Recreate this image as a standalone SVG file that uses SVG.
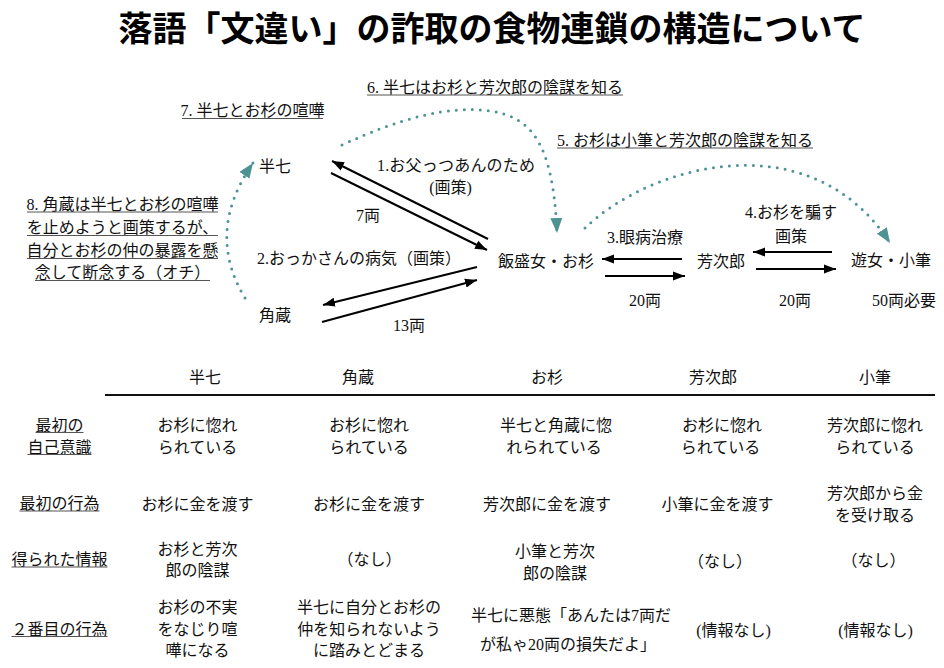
<svg xmlns="http://www.w3.org/2000/svg" width="944" height="668" viewBox="0 0 944 668">
<defs>
<style>
.t{font-family:"Liberation Serif","Noto Sans CJK JP",serif;font-size:16px;fill:#111;}
.m{text-anchor:middle;}
.title{font-family:"Noto Sans CJK JP",sans-serif;font-size:34px;font-weight:bold;fill:#000;text-anchor:middle;}
.ul{stroke:#555;stroke-width:1.2;}
.arr{stroke:#000;stroke-width:2;fill:none;marker-end:url(#ah);}
.dot{stroke:#4d9393;stroke-width:3;fill:none;stroke-dasharray:0 8;stroke-linecap:round;marker-end:url(#th);}
</style>
<marker id="ah" markerUnits="userSpaceOnUse" markerWidth="12" markerHeight="10" refX="12" refY="5" orient="auto">
<path d="M0,0.5 L12,5 L0,9.5 z" fill="#000"/>
</marker>
<marker id="th" markerUnits="userSpaceOnUse" markerWidth="15" markerHeight="12" refX="15" refY="6" orient="auto">
<path d="M0,0 L15,6 L0,12 z" fill="#4d9393"/>
</marker>
</defs>
<rect width="944" height="668" fill="#fff"/>
<text class="title" x="492" y="41">落語「文違い」の詐取の食物連鎖の構造について</text>

<g id="connectors">
<path class="arr" d="M488,239 L332,161"/>
<path class="arr" d="M331,173 L487,250"/>
<path class="arr" d="M477,267 L323,305"/>
<path class="arr" d="M322,322 L477,280"/>
<path class="arr" d="M682,259 L602,259"/>
<path class="arr" d="M605,276 L685,276"/>
<path class="arr" d="M832,252 L753,252"/>
<path class="arr" d="M756,269 L836,269"/>
<path class="dot" d="M245,298 Q205,232 253,163"/>
<path class="dot" d="M342,145 C400,118 450,105 490,111 C530,117 553,140 557,233"/>
<path class="dot" d="M585,228 C650,165 810,120 890,243"/>
</g>

<g id="node-hanshichi"><text class="t m" x="275" y="172">半七</text></g>
<g id="node-kakuzo"><text class="t m" x="275" y="321">角蔵</text></g>
<g id="node-osugi"><text class="t m" x="546" y="267">飯盛女・お杉</text></g>
<g id="node-yoshijiro"><text class="t m" x="721" y="267">芳次郎</text></g>
<g id="node-kofude"><text class="t m" x="891" y="266">遊女・小筆</text></g>

<g id="edge-labels">
<text class="t m" x="456" y="171" textLength="158" lengthAdjust="spacing">1.お父っつあんのため</text>
<text class="t m" x="450.5" y="193">(画策)</text>
<text class="t m" x="368" y="221">7両</text>
<text class="t" x="257" y="264">2.おっかさんの病気（画策）</text>
<text class="t m" x="409" y="331">13両</text>
<text class="t m" x="645" y="243">3.眼病治療</text>
<text class="t m" x="645" y="306">20両</text>
<text class="t m" x="791" y="218">4.お杉を騙す</text>
<text class="t m" x="791" y="242">画策</text>
<text class="t m" x="795" y="306">20両</text>
<text class="t m" x="904" y="306">50両必要</text>
</g>

<g id="notes">
<text class="t m" x="495" y="93">6. 半七はお杉と芳次郎の陰謀を知る</text>
<line class="ul" x1="367" y1="95" x2="623" y2="95"/>
<text class="t m" x="252.5" y="116">7. 半七とお杉の喧嘩</text>
<line class="ul" x1="182" y1="118.5" x2="323" y2="118.5"/>
<text class="t m" x="685" y="146">5. お杉は小筆と芳次郎の陰謀を知る</text>
<line class="ul" x1="557" y1="148" x2="813" y2="148"/>
<text class="t m" x="122.5" y="210">8. 角蔵は半七とお杉の喧嘩</text>
<line class="ul" x1="27" y1="212" x2="218" y2="212"/>
<text class="t m" x="122.5" y="233">を止めようと画策するが、</text>
<line class="ul" x1="27" y1="235.5" x2="218" y2="235.5"/>
<text class="t m" x="122.5" y="256">自分とお杉の仲の暴露を懸</text>
<line class="ul" x1="27" y1="258.5" x2="218" y2="258.5"/>
<text class="t m" x="122.5" y="278">念して断念する（オチ）</text>
<line class="ul" x1="35" y1="280.5" x2="210" y2="280.5"/>
</g>

<g id="table">
<text class="t m" x="205" y="383">半七</text>
<text class="t m" x="358" y="383">角蔵</text>
<text class="t m" x="547" y="383">お杉</text>
<text class="t m" x="713" y="383">芳次郎</text>
<text class="t m" x="875" y="383">小筆</text>
<line x1="105" y1="395" x2="935" y2="395" stroke="#111" stroke-width="2"/>

<text class="t m" x="59.5" y="430.5">最初の</text>
<line class="ul" x1="35.5" y1="432.5" x2="83.5" y2="432.5"/>
<text class="t m" x="59.5" y="452.5">自己意識</text>
<line class="ul" x1="27.5" y1="454.5" x2="91.5" y2="454.5"/>
<text class="t m" x="59.5" y="509">最初の行為</text>
<line class="ul" x1="19.5" y1="511" x2="99.5" y2="511"/>
<text class="t m" x="59.5" y="565">得られた情報</text>
<line class="ul" x1="11.5" y1="567" x2="107.5" y2="567"/>
<text class="t m" x="59.5" y="634.5">２番目の行為</text>
<line class="ul" x1="11.5" y1="636.5" x2="107.5" y2="636.5"/>

<text class="t m" x="197.5" y="430.5">お杉に惚れ</text>
<text class="t m" x="197.5" y="452.5">られている</text>
<text class="t m" x="369" y="430.5">お杉に惚れ</text>
<text class="t m" x="369" y="452.5">られている</text>
<text class="t m" x="556" y="430.5">半七と角蔵に惚</text>
<text class="t m" x="554" y="452.5">れられている</text>
<text class="t m" x="722" y="430.5">お杉に惚れ</text>
<text class="t m" x="720.5" y="452.5">られている</text>
<text class="t m" x="875" y="430.5">芳次郎に惚れ</text>
<text class="t m" x="875" y="452.5">られている</text>

<text class="t m" x="197.5" y="509.5">お杉に金を渡す</text>
<text class="t m" x="369" y="509.5">お杉に金を渡す</text>
<text class="t m" x="547" y="509.5">芳次郎に金を渡す</text>
<text class="t m" x="717.5" y="509.5">小筆に金を渡す</text>
<text class="t m" x="875" y="499">芳次郎から金</text>
<text class="t m" x="875" y="521">を受け取る</text>

<text class="t m" x="197.5" y="554.5">お杉と芳次</text>
<text class="t m" x="197.5" y="576">郎の陰謀</text>
<text class="t m" x="369.5" y="565">（なし）</text>
<text class="t m" x="555" y="557">小筆と芳次</text>
<text class="t m" x="555" y="579">郎の陰謀</text>
<text class="t m" x="720" y="567">（なし）</text>
<text class="t m" x="873.5" y="566">（なし）</text>

<text class="t m" x="197.5" y="612.5">お杉の不実</text>
<text class="t m" x="197.5" y="634.5">をなじり喧</text>
<text class="t m" x="197.5" y="656">嘩になる</text>
<text class="t m" x="369" y="612.5">半七に自分とお杉の</text>
<text class="t m" x="369" y="634.5">仲を知られないよう</text>
<text class="t m" x="369" y="656">に踏みとどまる</text>
<text class="t m" x="571" y="621">半七に悪態「あんたは7両だ</text>
<text class="t m" x="568" y="649.5">が私ゃ20両の損失だよ」</text>
<text class="t m" x="733.5" y="636">(情報なし)</text>
<text class="t m" x="875.5" y="636">(情報なし)</text>
</g>
</svg>
